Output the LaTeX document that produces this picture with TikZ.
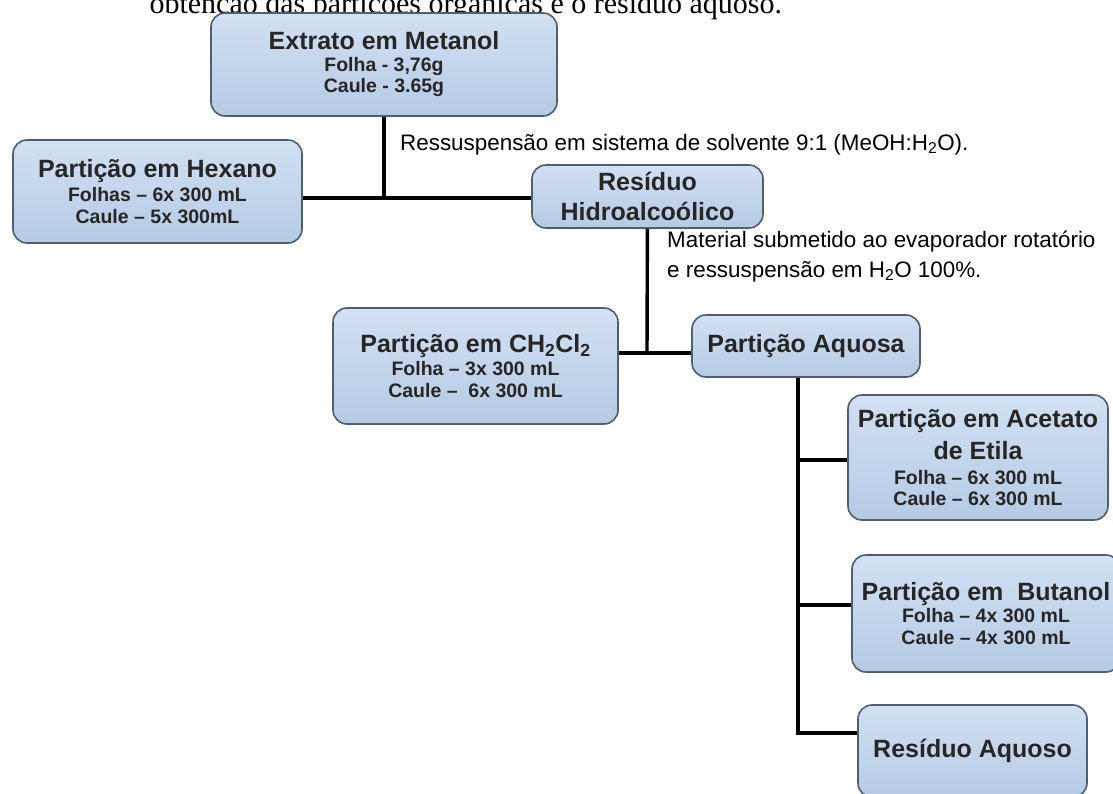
\documentclass[tikz,border=0pt]{standalone}
\usepackage{fontspec}
\setmainfont{Liberation Sans}
\newfontfamily\serifline{Liberation Serif}
\definecolor{boxtop}{HTML}{D2E1F3}
\definecolor{boxbot}{HTML}{B5CAE4}
\definecolor{boxedge}{HTML}{4F5E72}
\newcommand{\ttltxt}{\bfseries\fontsize{25}{30}\selectfont}
\newcommand{\subtxt}{\bfseries\fontsize{19.5}{21.5}\selectfont}
\newcommand{\notetxt}{\fontsize{22.4}{30}\selectfont}
\tikzset{
  pbox/.style={draw=boxedge, line width=1.6pt, rounded corners=14pt,
    top color=boxtop, bottom color=boxbot, align=center, inner sep=0pt,
    text=black!85, font=\subtxt},
  link/.style={line width=3.4pt}
}

\begin{document}
\begin{tikzpicture}[x=1pt, y=-1pt]
      \clip (0,0) rectangle (1113,793);
      \fill[white] (0,0) rectangle (1113,793);

      \node[anchor=base west, font=\serifline\fontsize{30}{30}\selectfont] (caption) at (146,13)
        {obtenção das partições orgânicas e o resíduo aquoso.};

      \node[pbox, minimum width=346, minimum height=103] (extrato) at (384,64.5)
        {{\ttltxt Extrato em Metanol}\\ Folha - 3,76g\\ Caule - 3.65g};
      \node[pbox, minimum width=289, minimum height=103] (hexano) at (157.5,191.5)
        {{\ttltxt Partição em Hexano}\\[3pt] Folhas -- 6x 300 mL\\ Caule -- 5x 300mL};
      \node[pbox, font=\ttltxt, minimum width=231, minimum height=63] (hidro) at (647.5,196.5)
        {Resíduo\\ Hidroalcoólico};
      \node[pbox, minimum width=285, minimum height=116] (diclo) at (475.5,366)
        {{\ttltxt Partição em CH\textsubscript{2}Cl\textsubscript{2}}\\[2pt] Folha -- 3x 300 mL\\ Caule --\ \ 6x 300 mL};
      \node[pbox, font=\ttltxt, minimum width=228, minimum height=62] (aquosa) at (806,346)
        {Partição Aquosa};
      \node[pbox, minimum width=260, minimum height=125] (acetato) at (978,457.5)
        {{\ttltxt Partição em Acetato}\\[8pt] {\ttltxt de Etila}\\[3pt] Folha -- 6x 300 mL\\ Caule -- 6x 300 mL};
      \node[pbox, minimum width=268, minimum height=117] (butanol) at (986,613.5)
        {{\ttltxt Partição em \ Butanol}\\[1pt] Folha -- 4x 300 mL\\ Caule -- 4x 300 mL};
      \node[pbox, font=\ttltxt, minimum width=229, minimum height=92] (resaquoso) at (972.5,751)
        {Resíduo Aquoso};

      \coordinate (j1) at (384,198);
      \coordinate (j2) at (647,353);
      \coordinate (j3) at (798,733);
      \coordinate (j4) at (798,460);
      \coordinate (j5) at (798,605);

      \draw[link] (extrato) -- (j1);
      \draw[link] (hexano.east |- j1) -- (hidro.west |- j1);
      \draw[link] (hidro) -- (j2);
      \draw[link] (diclo.east |- j2) -- (aquosa.west |- j2);
      \draw[link] (aquosa.south -| j3) -- (j3) -- (resaquoso.west |- j3);
      \draw[link] (j4) -- (acetato.west |- j4);
      \draw[link] (j5) -- (butanol.west |- j5);

      \node[anchor=base west, font=\notetxt, inner sep=0pt] (note1) at (400,150)
        {Ressuspensão em sistema de solvente 9:1 (MeOH:H\textsubscript{2}O).};
      \node[anchor=base west, font=\notetxt, align=left, inner sep=0pt] (note2) at (667,277)
        {Material submetido ao evaporador rotatório\\ e ressuspensão em H\textsubscript{2}O 100\%.};
    \end{tikzpicture}
\end{document}
